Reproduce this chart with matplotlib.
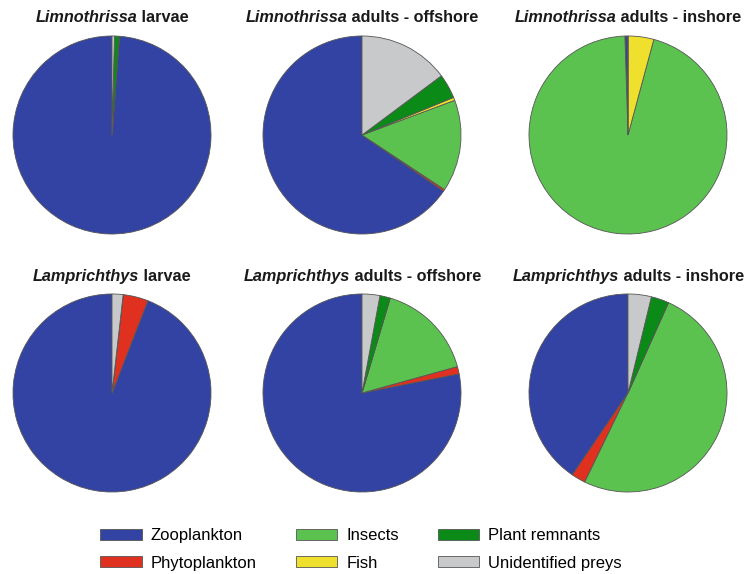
import numpy as np
import matplotlib
matplotlib.use("Agg")
import matplotlib.pyplot as plt
from matplotlib.patches import Patch

plt.rcParams['font.family'] = ['Liberation Sans', 'DejaVu Sans']

# diet categories and colours
categories = ['Zooplankton', 'Phytoplankton', 'Insects', 'Fish',
              'Plant remnants', 'Unidentified preys']
colors = ['#3343A3', '#E0301F', '#5CC24F', '#F0E02E', '#0B8A18', '#C8C9CA']

# percentages per panel (same order as categories)
limno_larvae = [98.8, 0.0, 0.0, 0.0, 0.8, 0.4]
limno_offshore = [65.4, 0.3, 15.0, 0.5, 4.0, 14.8]
limno_inshore = [0.5, 0.0, 95.3, 4.2, 0.0, 0.0]
lampr_larvae = [94.1, 4.1, 0.0, 0.0, 0.0, 1.8]
lampr_offshore = [78.1, 1.2, 16.1, 0.0, 1.7, 2.9]
lampr_inshore = [40.5, 2.3, 50.5, 0.0, 2.9, 3.8]

panels = [
    ('Limnothrissa', ' larvae', limno_larvae),
    ('Limnothrissa', ' adults - offshore', limno_offshore),
    ('Limnothrissa', ' adults - inshore', limno_inshore),
    ('Lamprichthys', ' larvae', lampr_larvae),
    ('Lamprichthys', ' adults - offshore', lampr_offshore),
    ('Lamprichthys', ' adults - inshore', lampr_inshore),
]

W, H = 744, 574
fig = plt.figure(figsize=(W / 100, H / 100), dpi=100)

cx = [112, 362, 628]
cy = [135, 393]
title_y = [18, 277]
r = 100

titles = []
for i, (genus, rest, vals) in enumerate(panels):
    row, col = divmod(i, 3)
    x0, y0 = cx[col], cy[row]
    ax = fig.add_axes([(x0 - r) / W, (H - y0 - r) / H, 2 * r / W, 2 * r / H])
    ax.pie(vals, colors=colors, startangle=90, counterclock=True,
           wedgeprops=dict(edgecolor='#555555', linewidth=0.6))
    ax.set_xlim(-1.01, 1.01)
    ax.set_ylim(-1.01, 1.01)
    ax.set_aspect('equal')
    ax.axis('off')
    ty = 1 - title_y[row] / H
    t1 = fig.text(x0 / W, ty, genus, fontsize=11.7, fontweight='bold',
                  fontstyle='italic', va='center', ha='left', color='#1a1a1a')
    t2 = fig.text(x0 / W, ty, rest, fontsize=11.7, fontweight='bold',
                  va='center', ha='left', color='#1a1a1a')
    titles.append((t1, t2, x0))

# centre the two-part titles
fig.canvas.draw()
rend = fig.canvas.get_renderer()
for t1, t2, x0 in titles:
    w1 = t1.get_window_extent(rend).width
    w2 = t2.get_window_extent(rend).width
    left = x0 - (w1 + w2) / 2
    t1.set_x(left / W)
    t2.set_x((left + w1) / W)

handles = [Patch(facecolor=c, edgecolor='#555555', linewidth=0.6) for c in colors]
fig.legend(handles, categories, ncol=3, loc='center left',
           bbox_to_anchor=(100 / W, 1 - 549.5 / H), frameon=False,
           borderpad=0, borderaxespad=0,
           fontsize=12, handlelength=2.5, handleheight=0.65,
           handletextpad=0.54, columnspacing=2.33, labelspacing=0.73)

fig.savefig('out.png', dpi=100, facecolor='white')
